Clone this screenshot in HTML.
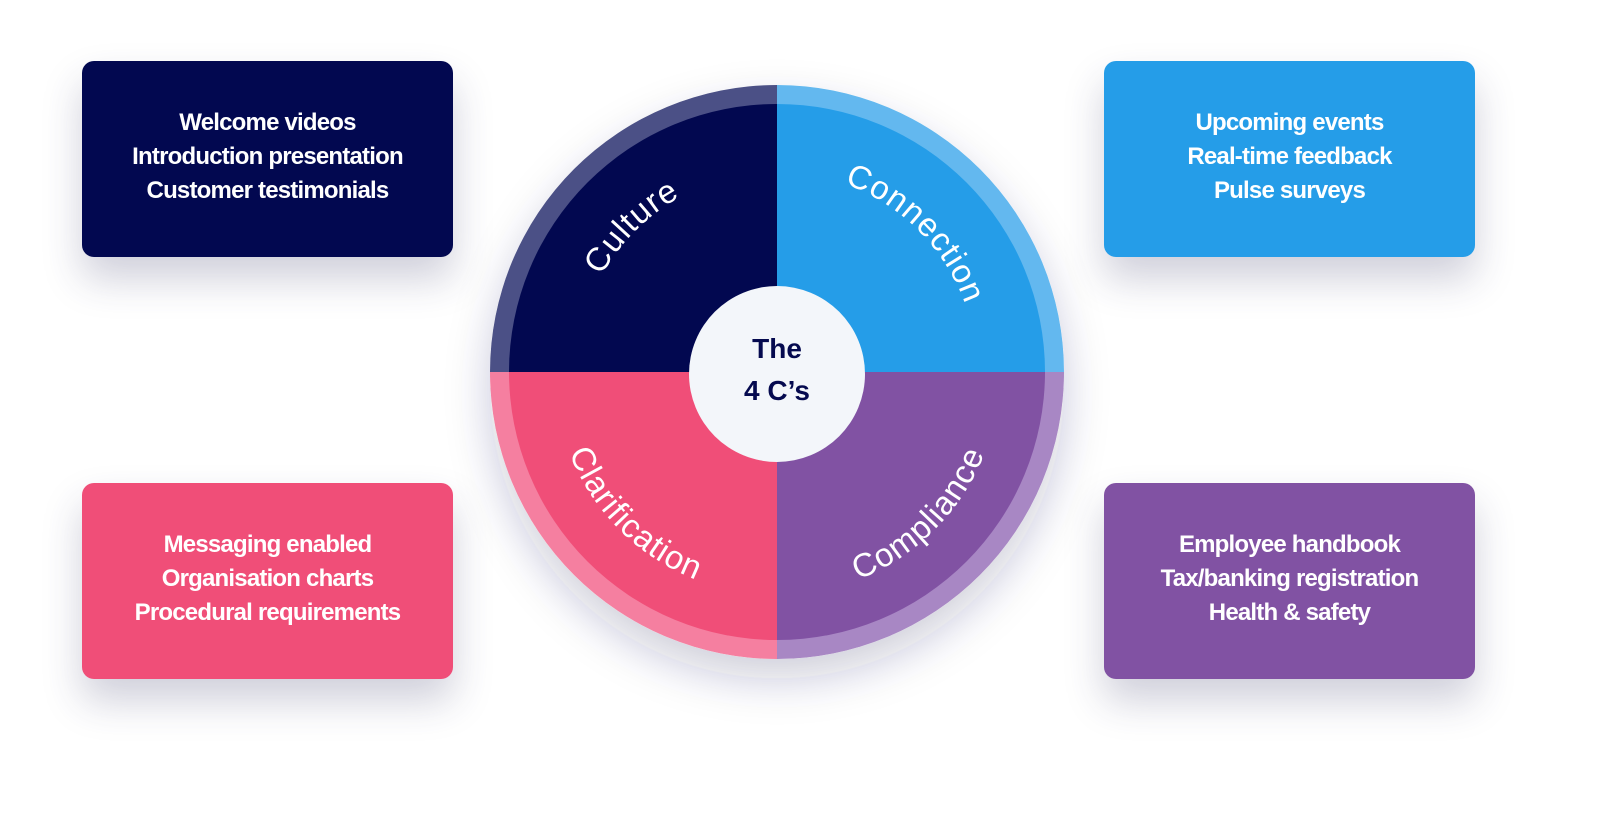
<!DOCTYPE html>
<html><head><meta charset="utf-8"><style>
html,body{margin:0;padding:0;width:1600px;height:827px;overflow:hidden;background:#fff;font-family:"Liberation Sans",sans-serif}
.box{position:absolute;width:371px;height:196px;border-radius:12px;color:#fff;display:flex;flex-direction:column;justify-content:center;align-items:center;font-weight:bold;font-size:24px;line-height:34px;letter-spacing:-0.8px;box-shadow:0 22px 40px rgba(40,40,90,0.22);padding-bottom:4px;box-sizing:border-box}
.box div{white-space:nowrap}
</style></head><body>
<div class="box" style="left:82px;top:61px;background:#020850">
<div>Welcome videos</div><div>Introduction presentation</div><div>Customer testimonials</div></div>
<div class="box" style="left:1104px;top:61px;background:#259de8">
<div>Upcoming events</div><div>Real-time feedback</div><div>Pulse surveys</div></div>
<div class="box" style="left:82px;top:483px;background:#f04e78">
<div>Messaging enabled</div><div>Organisation charts</div><div>Procedural requirements</div></div>
<div class="box" style="left:1104px;top:483px;background:#8152a3">
<div>Employee handbook</div><div>Tax/banking registration</div><div>Health &amp; safety</div></div>
<svg width="1600" height="827" style="position:absolute;left:0;top:0">
<defs>
<filter id="sh" x="-30%" y="-30%" width="160%" height="160%"><feDropShadow dx="0" dy="20" stdDeviation="22" flood-color="#28285a" flood-opacity="0.22"/></filter>
<path id="p1" d="M577,372 A200,200 0 0 1 777,172"/>
<path id="p2" d="M777,172 A200,200 0 0 1 977,372"/>
<path id="p3" d="M554,372 A223,223 0 0 0 777,595"/>
<path id="p4" d="M777,595 A223,223 0 0 0 1000,372"/>
</defs>
<circle cx="777" cy="372" r="287" fill="#fff" filter="url(#sh)"/>
<path d="M777,372 L490,372 A287,287 0 0 1 777,85 Z" fill="#4b5086"/>
<path d="M777,372 L777,85 A287,287 0 0 1 1064,372 Z" fill="#63b8ef"/>
<path d="M777,372 L490,372 A287,287 0 0 0 777,659 Z" fill="#f57fa0"/>
<path d="M777,372 L777,659 A287,287 0 0 0 1064,372 Z" fill="#a887c4"/>
<path d="M777,372 L509,372 A268,268 0 0 1 777,104 Z" fill="#020850"/>
<path d="M777,372 L777,104 A268,268 0 0 1 1045,372 Z" fill="#259de8"/>
<path d="M777,372 L509,372 A268,268 0 0 0 777,640 Z" fill="#f04e78"/>
<path d="M777,372 L777,640 A268,268 0 0 0 1045,372 Z" fill="#8152a3"/>
<circle cx="777" cy="374" r="88" fill="#f3f6fa"/>
<g font-family="Liberation Sans, sans-serif" font-size="33" fill="#fff" letter-spacing="1">
<text><textPath href="#p1" startOffset="50%" text-anchor="middle">Culture</textPath></text>
<text><textPath href="#p2" startOffset="50%" text-anchor="middle">Connection</textPath></text>
<text><textPath href="#p3" startOffset="50%" text-anchor="middle">Clarification</textPath></text>
<text><textPath href="#p4" startOffset="50%" text-anchor="middle">Compliance</textPath></text>
</g>
<text x="777" y="358" text-anchor="middle" font-family="Liberation Sans, sans-serif" font-weight="bold" font-size="28" fill="#050a4f">The</text>
<text x="777" y="400" text-anchor="middle" font-family="Liberation Sans, sans-serif" font-weight="bold" font-size="28" fill="#050a4f">4 C’s</text>
</svg>
</body></html>
